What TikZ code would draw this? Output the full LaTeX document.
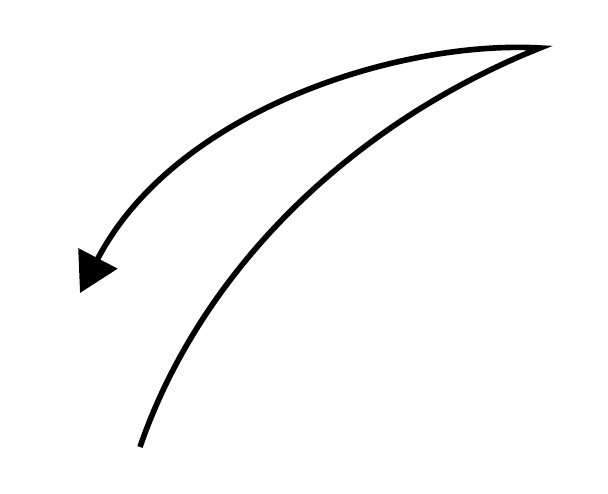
\documentclass[tikz,border=0pt]{standalone}
\usetikzlibrary{arrows.meta}

\begin{document}
\begin{tikzpicture}[>=Latex, line width=3.2pt]
  \useasboundingbox (0,0) rectangle (12.16,9.88);
  \coordinate (S) at (2.8,0.94);
  \coordinate (P) at (10.8,8.92);
  \coordinate (T) at (1.6,4.02);

  % sweep up, then back down to the left
  \draw[line join=miter, -{Triangle[length=7.8mm, width=8.6mm]}]
    (S) .. controls (4.0,4.44) and (7.0,7.4) .. (P)
        .. controls (8.0,9.08) and (3.5,7.68) .. (T);
\end{tikzpicture}
\end{document}
